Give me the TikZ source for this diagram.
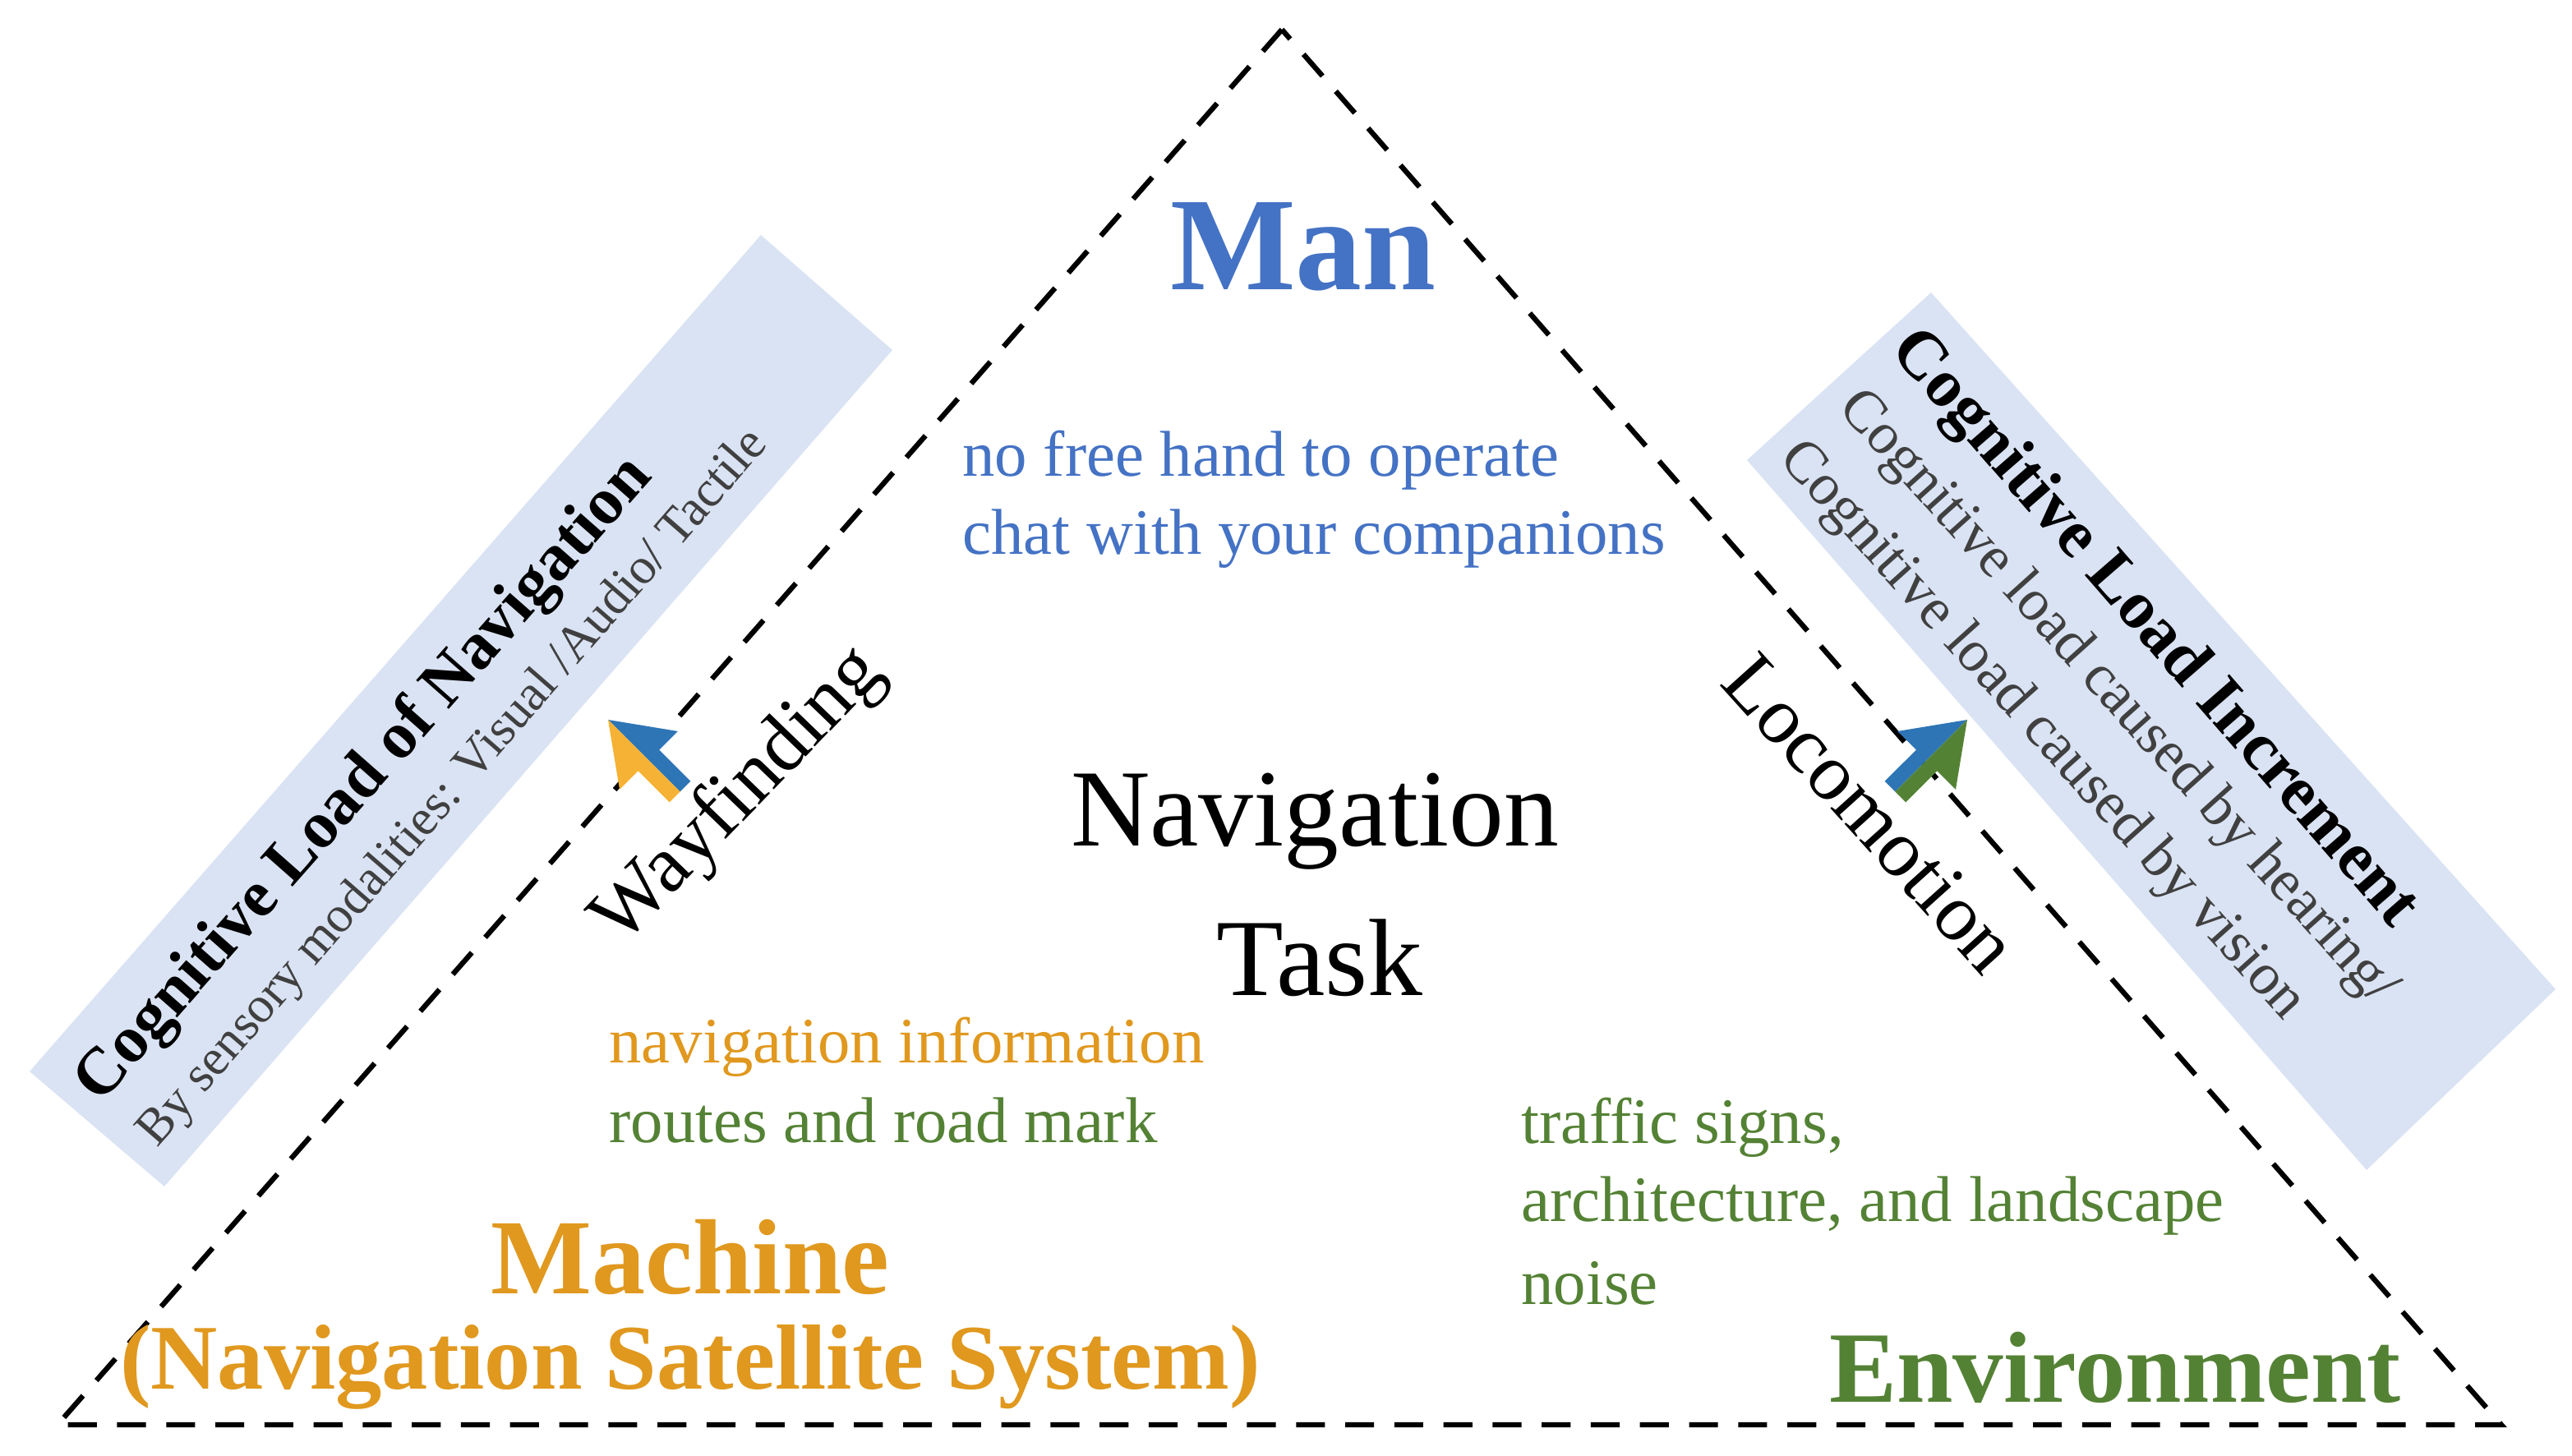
\documentclass[tikz,border=0pt]{standalone}
\usepackage{fontspec}
\setmainfont{Liberation Serif}
\usetikzlibrary{positioning}
\definecolor{manblue}{RGB}{68,114,196}
\definecolor{machorange}{RGB}{224,152,30}
\definecolor{envgreen}{RGB}{84,130,53}
\definecolor{boxblue}{RGB}{218,227,243}
\definecolor{arrblue}{RGB}{46,117,182}
\definecolor{arryellow}{RGB}{246,178,52}
\definecolor{txtgrey}{RGB}{64,64,64}
\tikzset{
  fs/.style={font=\fontsize{#1}{#1}\selectfont},
  bfs/.style={font=\bfseries\fontsize{#1}{#1}\selectfont},
  side/.style={fs=11.2, align=left, anchor=west, inner sep=0pt},
  boxlabel/.style={inner sep=0pt},
}
\begin{document}
\begin{tikzpicture}[x=0.01cm,y=-0.01cm]
	\useasboundingbox (0,0) rectangle (1565,886);

	% shaded bands
	\fill[boxblue] (463,143) -- (543,213) -- (100,722) -- (18,652) -- cycle;
	\fill[boxblue] (1175,178) -- (1063,280) -- (1440,712) -- (1555,602) -- cycle;

	% triangle
	\draw[line width=0.9pt, dash pattern=on 5pt off 3.5pt] (780,18) -- (35,867) -- (1522,867) -- cycle;

	% corners
	\node[bfs=23, text=manblue] (man) at (793,150) {Man};
	\node[bfs=18.5, text=machorange] (machine) at (420,765) {Machine};
	\node[bfs=16, text=machorange] (satellite) at (420,832) {(Navigation Satellite System)};
	\node[bfs=17.5, text=envgreen] (environment) at (1287,832) {Environment};

	% centre
	\node[fs=19] (nav) at (800,500) {Navigation};
	\node[fs=19] (task) at (803,583) {Task};

	% side texts
	\node[side, text=manblue] (hand) at (585,280) {no free hand to operate};
	\node[side, text=manblue] (chat) at (585,328) {chat with your companions};
	\node[side, text=machorange] (info) at (370,637) {navigation information};
	\node[side, text=envgreen] (routes) at (370,682) {routes and road mark};
	\node[side, text=envgreen] (traffic) at (925,686) {traffic signs,};
	\node[side, text=envgreen] (archi) at (925,734) {architecture, and landscape};
	\node[side, text=envgreen] (noise) at (925,781) {noise};

	% edge labels
	\node[fs=14, rotate=46] (wayfinding) at (450,485) {Wayfinding};
	\node[fs=14, rotate=-48] (locomotion) at (1138,495) {Locomotion};

	% band texts
	\node[boxlabel, bfs=11.5, rotate=48.6] (loadnav) at (222,475) {Cognitive Load of Navigation};
	\node[boxlabel, fs=8.8, text=txtgrey, rotate=49] (sensory) at (276,480) {By sensory modalities: Visual /Audio/ Tactile};
	\node[boxlabel, bfs=11.8, rotate=-49] (loadinc) at (1310,383) {Cognitive Load Increment};
	\node[boxlabel, fs=10.2, text=txtgrey, rotate=-48] (hearing) at (1288,425) {Cognitive load caused by hearing/};
	\node[boxlabel, fs=10.2, text=txtgrey, rotate=-48] (vision) at (1242,445) {Cognitive load caused by vision};

	% arrows
	\fill[arrblue] (370,438) -- (412.4,445.0) -- (401.1,456.3) -- (420.2,475.4) -- (413.8,481.8) -- cycle;
	\fill[arryellow] (370,438) -- (377.0,480.4) -- (388.3,469.1) -- (407.4,488.2) -- (413.8,481.8) -- cycle;
	\fill[arrblue] (1197,438) -- (1154.6,445.0) -- (1166.0,456.3) -- (1146.8,475.4) -- (1153.2,481.8) -- cycle;
	\fill[envgreen] (1197,438) -- (1190.0,480.4) -- (1178.7,469.1) -- (1159.6,488.2) -- (1153.2,481.8) -- cycle;
\end{tikzpicture}
\end{document}
